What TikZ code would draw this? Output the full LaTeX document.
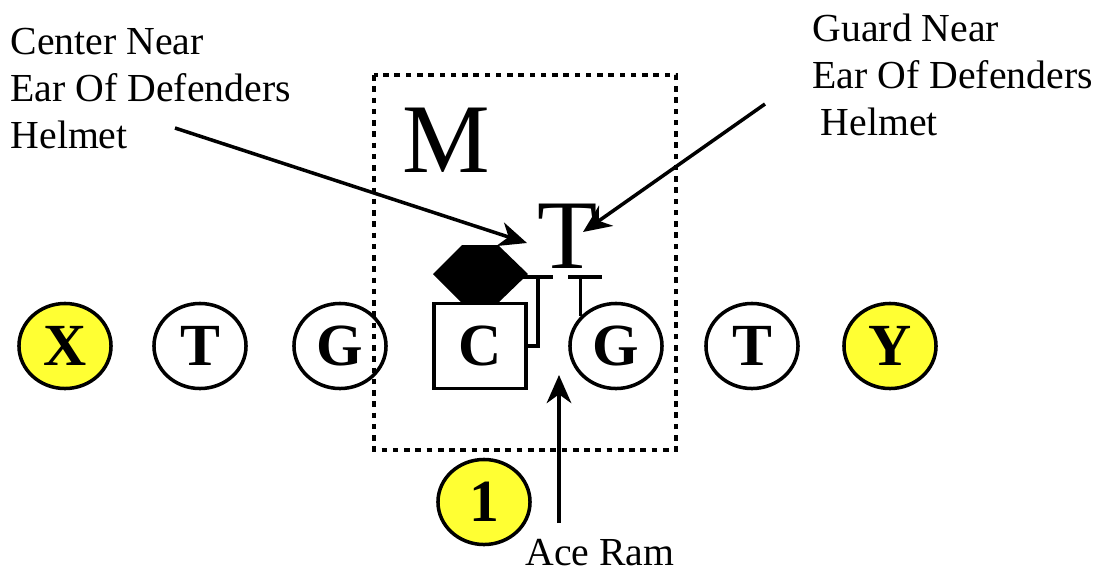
\documentclass[tikz,border=0pt]{standalone}
\usepackage{fontspec}
\setmainfont{Liberation Serif}
\usetikzlibrary{shapes.geometric, arrows.meta}
\definecolor{skillyellow}{RGB}{255,255,51}

\begin{document}
\begin{tikzpicture}[x=0.01cm, y=-0.01cm,
  player/.style={draw, ellipse, line width=1pt, minimum width=0.92cm, minimum height=0.85cm, inner sep=0pt, font=\bfseries\fontsize{17}{20}\selectfont},
  skill/.style={player, fill=skillyellow},
  note/.style={align=left, inner sep=0pt, font=\fontsize{11.3}{13.4}\selectfont},
  defender/.style={inner sep=0pt, font=\fontsize{28}{32}\selectfont},
  block/.style={line width=1pt},
  pointer/.style={line width=1pt, -{Stealth[length=8pt, width=7pt, inset=2.5pt]}}]

\useasboundingbox (0,0) rectangle (1096,572);

% ========== Notes ==========
\node[note, anchor=north west] (cnote) at (10,27) {Center Near\\Ear Of Defenders\\Helmet};
\node[note, anchor=north west] (gnote) at (812,13) {Guard Near\\Ear Of Defenders\\\hspace*{0.08cm}Helmet};
\node[note] (ace) at (600,553) {Ace Ram};

% ========== Box round the point of attack ==========
\draw[line width=1pt, dash pattern=on 1.6pt off 1.6pt] (374,75) rectangle (676,450);

% ========== Defense ==========
\node[defender] (mike) at (446,140) {M};
\node[defender] (tackle) at (568,236) {T};

% ========== Offense ==========
\node[skill] (x) at (65,346) {X};
\node[player] (lt) at (200,346) {T};
\node[player] (lg) at (340,346) {G};
\node[player, rectangle, minimum width=0.92cm, minimum height=0.85cm] (c) at (480,346) {C};
\node[player] (rg) at (616,346) {G};
\node[player] (rt) at (752,346) {T};
\node[skill] (y) at (890,346) {Y};
\node[skill] (one) at (484,502) {1};

% shaded defender over the center
\fill (433,274) -- (462,245) -- (498,245) -- (528,274) -- (498,303) -- (462,303) -- cycle;

% ========== Blocks ==========
\coordinate (cbar) at (538,277);
\coordinate (gbar) at (585,277);
\draw[block] (c.east) -- ++(10,0) coordinate (cturn) -- (cturn |- cbar);
\draw[block] (523,277) -- (553,277);
\draw[block] (rg.140) -- (rg.140 |- gbar);
\draw[block] (568,277) -- (602,277);

% ========== Pointers ==========
\coordinate (ctail) at (175,128);
\coordinate (ctip) at (527,243);
\coordinate (gtail) at (765,104);
\coordinate (gtip) at (583,232);
\coordinate (atail) at (559,523);
\coordinate (atip) at (559,375);
\draw[pointer] (ctail) -- (ctip);
\draw[pointer] (gtail) -- (gtip);
\draw[pointer] (atail) -- (atip);

\end{tikzpicture}
\end{document}
